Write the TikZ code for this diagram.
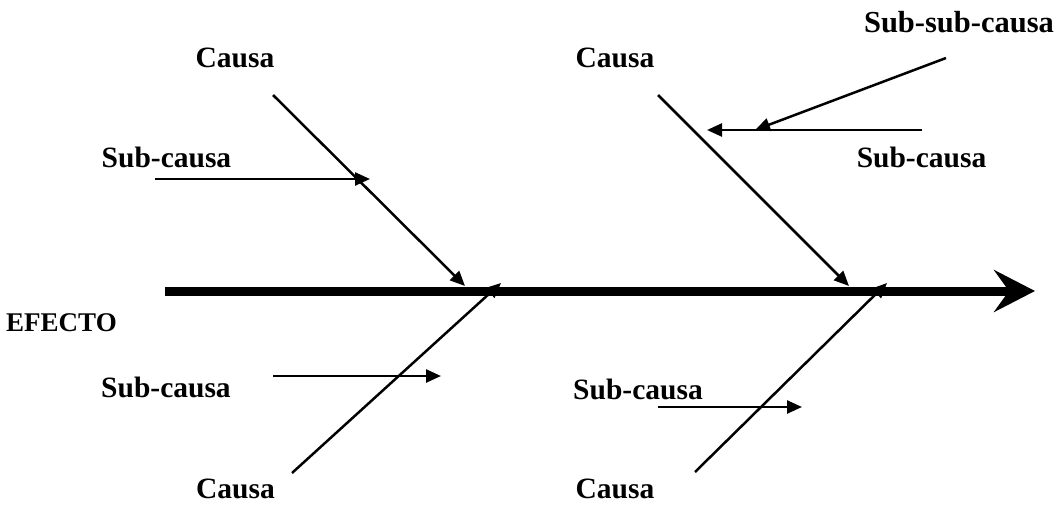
\documentclass[tikz,border=0pt]{standalone}
\usepackage{fontspec}
\setmainfont{Liberation Serif}
\usetikzlibrary{arrows.meta}
\tikzset{%
	>={Triangle[length=15pt,width=13pt]},
	label/.style={font=\bfseries\fontsize{29.5}{34}\selectfont, inner sep=0pt},
	bone/.style={line width=2.5pt, ->},
	spine/.style={line width=9pt, -{Stealth[length=41pt,width=42pt,inset=15pt]}}
}
\begin{document}
\begin{tikzpicture}[x=1pt,y=-1pt]
\useasboundingbox (0,0) rectangle (1062,506);

% labels
\node (c_ul) [label] at (235,58) {Causa};
\node (c_ur) [label] at (615,58) {Causa};
\node (ssc) [label, font=\bfseries\fontsize{30.5}{35}\selectfont] at (959,22) {Sub-sub-causa};
\node (sc_ul) [label] at (166.5,157.5) {Sub-causa};
\node (sc_ur) [label] at (921.5,157.5) {Sub-causa};
\node (effect) [label, font=\bfseries\fontsize{27}{31}\selectfont] at (61.5,323) {EFECTO};
\node (sc_ll) [label] at (166,387.5) {Sub-causa};
\node (sc_lr) [label] at (638,389) {Sub-causa};
\node (c_ll) [label] at (235.5,488.5) {Causa};
\node (c_lr) [label] at (615,488.5) {Causa};

% spine
\coordinate (tail) at (165,291);
\coordinate (head) at (1035,291);
\draw[spine] (tail) -- (head);

% main causes
\coordinate (c1_from) at (273,95);   \coordinate (c1_to) at (465,286);
\coordinate (c2_from) at (658,95);   \coordinate (c2_to) at (849,286);
\coordinate (c3_from) at (292,473);  \coordinate (c3_to) at (501,283);
\coordinate (c4_from) at (695,472);  \coordinate (c4_to) at (887,283);
\draw[bone] (c1_from) -- (c1_to);
\draw[bone] (c2_from) -- (c2_to);
\draw[bone] (c3_from) -- (c3_to);
\draw[bone] (c4_from) -- (c4_to);

% sub causes
\coordinate (s1_from) at (155,179);  \coordinate (s1_to) at (370,179);
\coordinate (s2_from) at (922,130);  \coordinate (s2_to) at (707,130);
\coordinate (s3_from) at (273,376);  \coordinate (s3_to) at (441,376);
\coordinate (s4_from) at (658,407);  \coordinate (s4_to) at (802,407);
\draw[bone] (s1_from) -- (s1_to);
\draw[bone] (s2_from) -- (s2_to);
\draw[bone] (s3_from) -- (s3_to);
\draw[bone] (s4_from) -- (s4_to);

% sub-sub cause
\coordinate (ss_from) at (946,58);   \coordinate (ss_to) at (755,130);
\draw[bone] (ss_from) -- (ss_to);

\end{tikzpicture}
\end{document}
